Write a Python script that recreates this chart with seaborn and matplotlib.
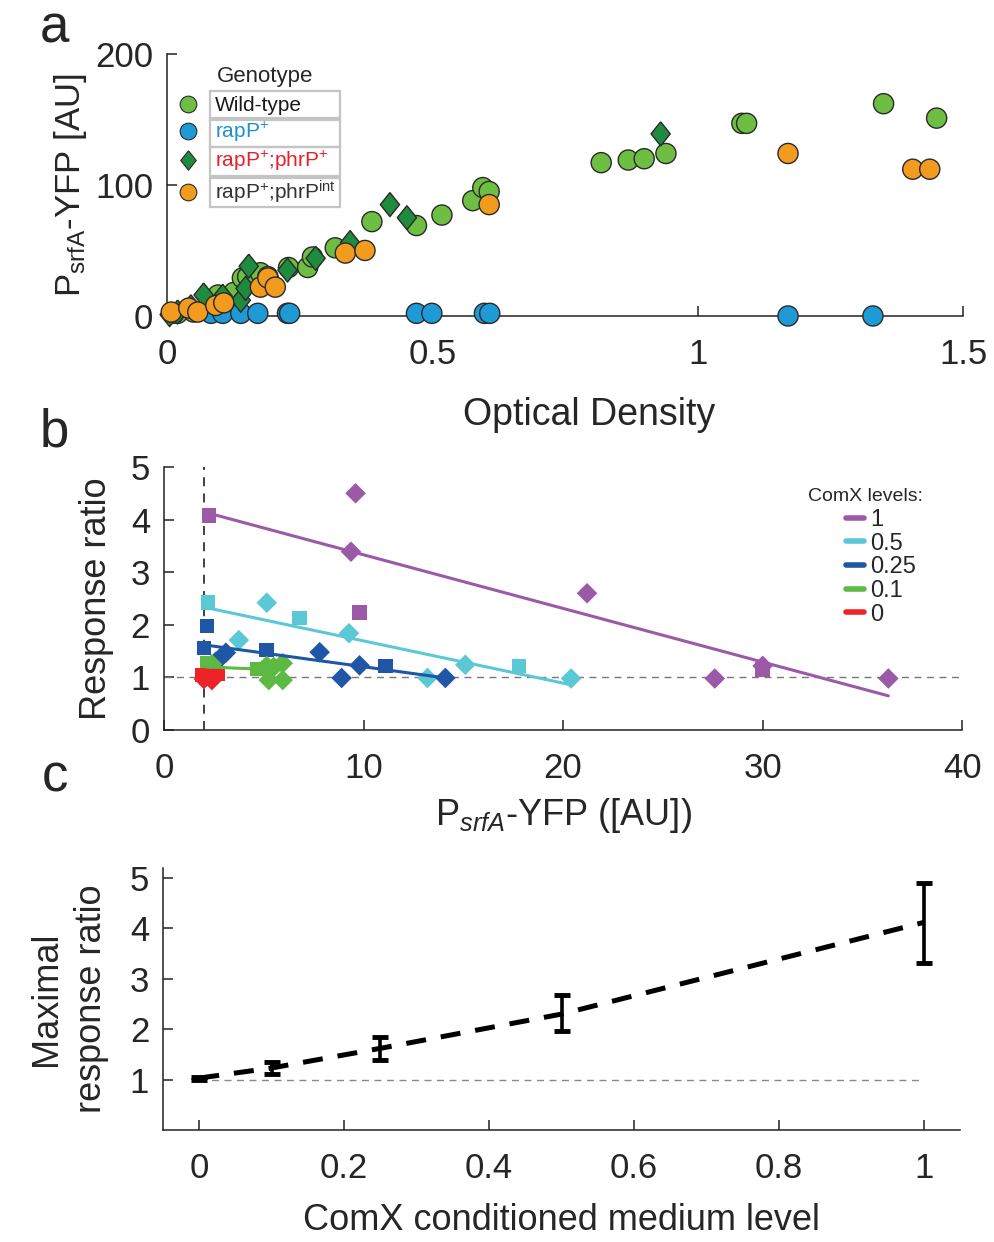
import numpy as np
import pandas as pd
import matplotlib
matplotlib.use("Agg")
import matplotlib.pyplot as plt
import seaborn as sns
from matplotlib.lines import Line2D
from matplotlib.patches import Rectangle

# ---------------- Panel a data (Optical density vs PsrfA-YFP) ----------------
genotypes = ["Wild-type", "rapP+", "rapP+;phrP+", "rapP+;phrPint"]
genotype_labels = ["Wild-type", r"rapP$^{+}$", r"rapP$^{+}$;phrP$^{+}$", r"rapP$^{+}$;phrP$^{\mathrm{int}}$"]

wt_od = [0.02, 0.05, 0.075, 0.096, 0.11, 0.126, 0.142, 0.152, 0.176, 0.19, 0.229, 0.265, 0.274,
         0.317, 0.386, 0.47, 0.518, 0.576, 0.595, 0.607, 0.818, 0.869, 0.899, 0.94, 1.083, 1.092, 1.35, 1.45]
wt_yfp = [2, 3, 5, 16, 12, 18, 29, 30, 33, 30, 37, 37, 45,
          52, 72, 69, 77, 88, 98, 95, 117, 119, 120, 124, 147, 147, 162, 151]

rap_od = [0.013, 0.083, 0.105, 0.139, 0.171, 0.227, 0.231, 0.47, 0.499, 0.598, 0.608, 1.17, 1.33]
rap_yfp = [2, 2, 2, 2, 2, 2, 2, 2, 2, 2, 2, 0, 0]

phr_od = [0.005, 0.02, 0.045, 0.069, 0.105, 0.139, 0.148, 0.154, 0.227, 0.28, 0.345, 0.42, 0.452, 0.93]
phr_yfp = [1, 3, 7, 16, 15, 12, 21, 38, 35, 44, 56, 85, 75, 139]

int_od = [0.008, 0.041, 0.058, 0.092, 0.107, 0.176, 0.19, 0.204, 0.336, 0.373, 0.607, 1.17, 1.405, 1.437]
int_yfp = [3, 6, 3, 8, 10, 22, 29, 22, 48, 50, 85, 124, 112, 112]

# ---------------- Panel b data (response ratio vs YFP) ----------------
levels = ["1", "0.5", "0.25", "0.1", "0"]
# squares (assay "A") and diamonds (assay "B") for each ComX level
b_sq_x = {"1": [2.26, 9.8, 30.0], "0.5": [2.2, 6.8, 17.8], "0.25": [2.15, 2.0, 5.15, 11.1],
          "0.1": [2.15, 2.3, 4.65, 4.95], "0": [1.9, 2.3, 2.7, 2.1]}
b_sq_y = {"1": [4.08, 2.23, 1.15], "0.5": [2.42, 2.13, 1.22], "0.25": [1.98, 1.56, 1.52, 1.22],
          "0.1": [1.27, 1.15, 1.16, 1.16], "0": [1.05, 1.03, 1.07, 1.0]}
b_di_x = {"1": [9.6, 9.37, 21.2, 27.6, 30.0, 36.3], "0.5": [5.15, 3.75, 9.27, 15.1, 13.2, 20.4],
          "0.25": [2.6, 2.9, 3.1, 7.8, 9.8, 8.9, 14.1], "0.1": [2.4, 5.15, 5.5, 5.95, 5.25, 5.95],
          "0": [2.0, 2.4]}
b_di_y = {"1": [4.5, 3.39, 2.6, 0.98, 1.22, 0.98], "0.5": [2.42, 1.71, 1.84, 1.24, 0.99, 0.98],
          "0.25": [1.3, 1.4, 1.47, 1.48, 1.23, 0.99, 0.99], "0.1": [1.25, 1.22, 1.2, 1.27, 0.95, 0.95],
          "0": [0.97, 0.95]}
# linear fit lines (end points)
fit_x = {"1": [2.26, 36.3], "0.5": [2.2, 20.4], "0.25": [2.0, 14.1], "0.1": [2.1, 5.95], "0": [1.9, 2.7]}
fit_y = {"1": [4.12, 0.65], "0.5": [2.32, 0.86], "0.25": [1.62, 0.99], "0.1": [1.2, 1.14], "0": [1.02, 1.04]}
threshold_x = 2.0

# ---------------- Panel c data ----------------
comx_level = [0, 0.1, 0.25, 0.5, 1.0]
max_ratio = [1.03, 1.23, 1.62, 2.3, 4.12]
err_low = [1.0, 1.12, 1.38, 1.97, 3.32]
err_high = [1.06, 1.34, 1.85, 2.68, 4.91]

# ---------------- Styling ----------------
sns.set_style("ticks")
plt.rcParams["font.family"] = ["Liberation Sans", "DejaVu Sans"]
plt.rcParams["mathtext.fontset"] = "custom"
plt.rcParams["mathtext.rm"] = "Liberation Sans"
plt.rcParams["mathtext.it"] = "Liberation Sans:italic"
plt.rcParams["mathtext.bf"] = "Liberation Sans:bold"
plt.rcParams["axes.edgecolor"] = "#222222"
plt.rcParams["axes.linewidth"] = 1.1

TICK = 25
LAB = 26

pal_a = {"Wild-type": "#6fbe44", "rapP+": "#1e9bd7", "rapP+;phrP+": "#1f8b3e", "rapP+;phrPint": "#f39b1f"}
diamond = np.array([[0, 1], [0.8, 0], [0, -1], [-0.8, 0], [0, 1]])
mk_a = {"Wild-type": "o", "rapP+": "o", "rapP+;phrP+": diamond, "rapP+;phrPint": "o"}
sz_a = {"Wild-type": 210, "rapP+": 210, "rapP+;phrP+": 300, "rapP+;phrPint": 210}
txtcol_a = ["#1a1a1a", "#1e8fd0", "#e8202a", "#333333"]

pal_b = {"1": "#9b59a8", "0.5": "#5bc8d6", "0.25": "#1f56a5", "0.1": "#5cb944", "0": "#ec2327"}

fig = plt.figure(figsize=(9.94, 12.42), dpi=100)
axa = fig.add_axes([0.168, 0.7456, 0.801, 0.211])
axb = fig.add_axes([0.165, 0.4122, 0.803, 0.2118])
axc = fig.add_axes([0.164, 0.0902, 0.802, 0.211])

# ---------------- Panel a ----------------
dfa = pd.concat([
    pd.DataFrame({"od": wt_od, "yfp": wt_yfp, "genotype": "Wild-type"}),
    pd.DataFrame({"od": rap_od, "yfp": rap_yfp, "genotype": "rapP+"}),
    pd.DataFrame({"od": phr_od, "yfp": phr_yfp, "genotype": "rapP+;phrP+"}),
    pd.DataFrame({"od": int_od, "yfp": int_yfp, "genotype": "rapP+;phrPint"}),
], ignore_index=True)

sns.scatterplot(data=dfa, x="od", y="yfp", hue="genotype", style="genotype", size="genotype",
                hue_order=genotypes, style_order=genotypes, size_order=genotypes,
                palette=pal_a, markers=mk_a, sizes=sz_a, edgecolor="#2a2a2a", linewidth=1.0,
                legend=False, ax=axa, clip_on=False, zorder=3)
axa.set_xlim(0, 1.5)
axa.set_ylim(0, 200)
axa.set_xticks([0, 0.5, 1, 1.5])
axa.set_xticklabels(["0", "0.5", "1", "1.5"])
axa.set_yticks([0, 100, 200])
axa.set_yticklabels(["0", "100", "200"])
axa.set_xlabel("Optical Density", fontsize=LAB + 1)
axa.xaxis.set_label_coords(0.53, -0.31)
axa.set_ylabel(r"P$_{\mathrm{srfA}}$-YFP [AU]", fontsize=LAB - 1, labelpad=4)
sns.despine(ax=axa)

axa.text(0.123, 0.912, "Genotype", transform=axa.transAxes, fontsize=16, ha="center", va="center")
handles = [Line2D([], [], linestyle="none", marker=mk_a[g], markersize=(12 if g != "rapP+;phrP+" else 14),
                  markerfacecolor=pal_a[g], markeredgecolor="#2a2a2a", markeredgewidth=0.8) for g in genotypes]
leg = axa.legend(handles, genotype_labels, loc="upper left", bbox_to_anchor=(0.016, 0.84),
                 frameon=False, fontsize=15, handlelength=0.8, handletextpad=0.9,
                 labelspacing=0.25, borderpad=0.0, borderaxespad=0.0)
for t, c in zip(leg.get_texts(), txtcol_a):
    t.set_color(c)

# ---------------- Panel b ----------------
rows = []
for lv in levels:
    for x, y in zip(b_sq_x[lv], b_sq_y[lv]):
        rows.append({"yfp": x, "ratio": y, "level": lv, "assay": "A"})
    for x, y in zip(b_di_x[lv], b_di_y[lv]):
        rows.append({"yfp": x, "ratio": y, "level": lv, "assay": "B"})
dfb = pd.DataFrame(rows)
fits = pd.concat([pd.DataFrame({"yfp": fit_x[lv], "ratio": fit_y[lv], "level": lv}) for lv in levels],
                 ignore_index=True)

axb.axhline(1, color="#777777", lw=1.0, ls=(0, (5, 4)), zorder=1)
axb.axvline(threshold_x, color="#333333", lw=1.3, ls=(0, (5, 4)), zorder=1)
sns.scatterplot(data=dfb, x="yfp", y="ratio", hue="level", style="assay", hue_order=levels[::-1],
                palette=pal_b, markers={"A": "s", "B": "D"}, s=110, linewidth=0, legend=False,
                ax=axb, clip_on=False, zorder=3)
sns.lineplot(data=fits, x="yfp", y="ratio", hue="level", hue_order=levels, palette=pal_b,
             lw=2.2, legend=False, ax=axb, zorder=4, estimator=None, sort=False)
axb.set_xlim(0, 40)
axb.set_ylim(0, 5)
axb.set_xticks([0, 10, 20, 30, 40])
axb.set_yticks([0, 1, 2, 3, 4, 5])
axb.set_xlabel(r"P$_{srfA}$-YFP ([AU])", fontsize=LAB, labelpad=8)
axb.set_ylabel("Response ratio", fontsize=LAB, labelpad=12)
sns.despine(ax=axb)
axb.text(0.807, 0.886, "ComX levels:", transform=axb.transAxes, fontsize=14, ha="left", va="center")
lh = [Line2D([], [], color=pal_b[lv], lw=4) for lv in levels]
axb.legend(lh, levels, loc="upper left", bbox_to_anchor=(0.855, 0.84), frameon=False, fontsize=17,
           handlelength=0.75, handletextpad=0.25, labelspacing=0.07, borderpad=0.0, borderaxespad=0.0)

# ---------------- Panel c ----------------
dfc = pd.DataFrame({"comx": comx_level, "ratio": max_ratio})
axc.hlines(1, 0, 1, color="#888888", lw=1.0, linestyles=(0, (5, 4)), zorder=1)
sns.lineplot(data=dfc, x="comx", y="ratio", color="black", lw=3.6, ax=axc, zorder=3,
             dashes=False, linestyle=(0, (4, 3)), estimator=None)
yerr = np.array([np.array(max_ratio) - np.array(err_low), np.array(err_high) - np.array(max_ratio)])
axc.errorbar(comx_level, max_ratio, yerr=yerr, fmt="none", ecolor="black", elinewidth=2.6,
             capsize=6, capthick=3.5, zorder=4)
axc.set_xlim(-0.05, 1.05)
axc.set_ylim(0, 5.2)
axc.set_xticks([0, 0.2, 0.4, 0.6, 0.8, 1])
axc.set_xticklabels(["0", "0.2", "0.4", "0.6", "0.8", "1"])
axc.set_yticks([1, 2, 3, 4, 5])
axc.set_xlabel("ComX conditioned medium level", fontsize=LAB, labelpad=13)
axc.set_ylabel("Maximal\nresponse ratio", fontsize=LAB, labelpad=15, linespacing=1.35)
sns.despine(ax=axc)

for ax in (axa, axb, axc):
    ax.tick_params(direction="in", length=7, width=1.1, labelsize=TICK, color="#222222")
    ax.tick_params(axis="x", pad=16)
    ax.tick_params(axis="y", pad=10)

fig.text(0.04, 0.977, "a", fontsize=38, ha="left", va="center")
fig.text(0.04, 0.652, "b", fontsize=38, ha="left", va="center")
fig.text(0.042, 0.374, "c", fontsize=38, ha="left", va="center")

# boxes around legend entries of panel a
fig.canvas.draw()
W, H = fig.canvas.get_width_height()
bbs = [t.get_window_extent() for t in leg.get_texts()]
cent = [(b.y0 + b.y1) / 2 for b in bbs]
step = np.mean(np.abs(np.diff(cent)))
x0 = min(b.x0 for b in bbs) - 5
for c in cent:
    fig.add_artist(Rectangle(((x0) / W, (c - step / 2) / H), 130 / W, step / H, transform=fig.transFigure,
                             fill=False, edgecolor="#c4c4c4", lw=1.6, zorder=5))

fig.savefig("out.png", dpi=100)
